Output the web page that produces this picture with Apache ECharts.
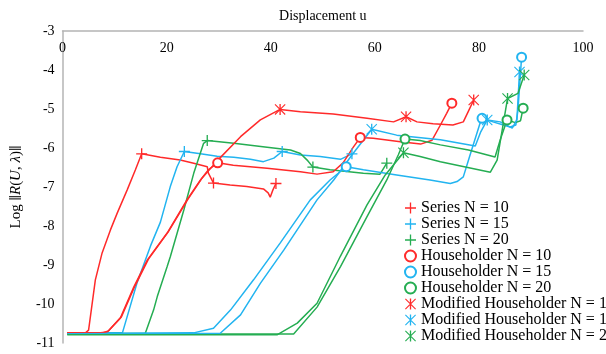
<!DOCTYPE html>
<html>
<head>
<meta charset="utf-8">
<script src="https://cdn.jsdelivr.net/npm/echarts@6/dist/echarts.min.js"></script>
<style>
html, body { margin: 0; padding: 0; background: #fff; }
#chart { width: 606px; height: 354px; }
</style>
</head>
<body>
<div id="chart"></div>
<script>
// axis ticks
const xTicks = [0, 20, 40, 60, 80, 100];
const yTicks = [-11, -10, -9, -8, -7, -6, -5, -4, -3];

// [u, log residual]; *Marks = indices that carry a marker
const seriesN10 = [[0.9,-10.74],[4.4,-10.74],[5.0,-10.67],[6.3,-9.38],[7.6,-8.69],[9.2,-8.10],[10.5,-7.67],[12.4,-7.08],[14.0,-6.56],[15.2,-6.15],[18.8,-6.24],[22.6,-6.31],[25.2,-6.39],[27.8,-6.48],[28.0,-6.64],[29.0,-6.90],[32.2,-6.95],[35.4,-6.99],[38.6,-7.05],[39.5,-7.15],[39.9,-7.26],[40.4,-7.08],[41.0,-6.91]];
const seriesN10Marks = [9, 15, 22];

const seriesN15 = [[0.9,-10.74],[11.5,-10.74],[12.4,-10.33],[14.3,-9.46],[16.9,-8.51],[18.8,-7.90],[20.7,-6.99],[22.0,-6.48],[23.4,-6.09],[26.5,-6.15],[29.7,-6.21],[32.9,-6.24],[36.1,-6.29],[38.6,-6.35],[40.6,-6.26],[42.2,-6.09],[45.7,-6.18],[49.5,-6.22],[53.4,-6.29],[55.6,-6.15]];
const seriesN15Marks = [8, 15, 19];

const seriesN20 = [[0.9,-10.77],[15.9,-10.75],[17.5,-10.15],[18.2,-9.81],[20.1,-9.04],[20.7,-8.79],[23.3,-7.59],[25.2,-6.65],[27.1,-5.88],[27.8,-5.81],[32.9,-5.88],[39.3,-5.98],[43.8,-6.05],[45.7,-6.14],[47.0,-6.31],[48.1,-6.49],[51.4,-6.56],[57.8,-6.65],[61.0,-6.67],[62.3,-6.39]];
const seriesN20Marks = [9, 15, 19];

const houseN10 = [[0.9,-10.74],[7.3,-10.74],[8.6,-10.72],[11.1,-10.36],[13.7,-9.56],[16.3,-8.87],[20.1,-8.18],[23.9,-7.33],[26.5,-6.82],[28.0,-6.56],[29.8,-6.38],[32.8,-6.44],[39.3,-6.52],[45.7,-6.61],[48.9,-6.67],[52.0,-6.61],[53.9,-6.38],[55.9,-5.97],[57.2,-5.73],[59.7,-5.75],[64.9,-5.84],[68.8,-5.90],[71.0,-5.80],[72.6,-5.41],[73.8,-5.11],[74.8,-4.85]];
const houseN10Marks = [10, 18, 25];

const houseN15 = [[0.9,-10.76],[25.2,-10.74],[29.0,-10.62],[32.3,-10.15],[36.7,-9.38],[41.8,-8.44],[47.6,-7.33],[51.4,-6.82],[54.5,-6.48],[57.8,-6.56],[64.2,-6.69],[70.6,-6.82],[74.5,-6.91],[75.8,-6.86],[77.0,-6.74],[78.3,-6.18],[80.2,-5.37],[80.6,-5.24],[82.7,-5.33],[84.7,-5.41],[86.0,-5.46],[87.1,-5.41],[87.5,-5.03],[87.9,-4.26],[88.2,-3.67]];
const houseN15Marks = [8, 17, 24];

const houseN20 = [[0.9,-10.77],[44.4,-10.77],[48.9,-10.08],[53.4,-9.04],[58.5,-7.76],[62.3,-6.82],[64.5,-6.18],[65.8,-5.77],[68.7,-5.81],[72.6,-5.92],[78.0,-6.05],[83.1,-6.23],[84.1,-5.79],[85.4,-5.28],[87.0,-5.35],[88.0,-5.30],[88.5,-4.98]];
const houseN20Marks = [7, 13, 16];

const modN10 = [[0.9,-10.74],[7.7,-10.74],[8.8,-10.69],[11.3,-10.33],[13.9,-9.54],[16.5,-8.85],[20.3,-8.15],[24.1,-7.31],[26.7,-6.79],[29.7,-6.33],[34.2,-5.71],[38.0,-5.28],[41.8,-5.01],[45.7,-5.07],[52.0,-5.13],[58.5,-5.24],[63.6,-5.33],[66.0,-5.20],[68.1,-5.33],[71.2,-5.38],[75.0,-5.41],[77.0,-5.33],[77.9,-5.08],[79.0,-4.77]];
const modN10Marks = [12, 17, 23];

const modN15 = [[0.9,-10.76],[30.3,-10.75],[34.2,-10.28],[38.0,-9.47],[42.5,-8.62],[48.9,-7.33],[52.1,-6.82],[55.6,-6.18],[59.4,-5.52],[64.2,-5.67],[72.6,-5.79],[79.3,-5.95],[80.3,-5.60],[81.6,-5.28],[84.1,-5.33],[86.4,-5.49],[87.3,-5.28],[87.8,-4.05]];
const modN15Marks = [8, 13, 17];

const modN20 = [[0.9,-10.79],[41.2,-10.79],[45.1,-10.49],[48.9,-9.98],[53.4,-8.77],[58.5,-7.46],[62.0,-6.69],[65.5,-6.12],[68.7,-6.22],[72.6,-6.35],[82.2,-6.62],[83.5,-6.31],[85.5,-4.73],[87.5,-4.60],[88.7,-4.13]];
const modN20Marks = [7, 12, 14];

const RED = '#ff2a2a';
const BLUE = '#22b4f0';
const GREEN = '#25ad52';
const FONT = '"Liberation Serif", "Times New Roman", serif';

const PLUS = 'path://M0,4.4H10V5.6H0Z M4.4,0H5.6V10H4.4Z';
const STAR = 'path://M4.4,0H5.6V10H4.4Z M0,0.7L0.7,0L10,9.3L9.3,10Z M9.3,0L10,0.7L0.7,10L0,9.3Z';

const chart = echarts.init(document.getElementById('chart'));

const makeSeries = (name, pts, marks, color, symbol, size) => ({
    name: name,
    type: 'line',
    data: pts.map((p, i) => marks.includes(i) ? { value: p } : { value: p, symbol: 'none' }),
    symbol: symbol,
    symbolSize: size,
    showSymbol: true,
    showAllSymbol: true,
    color: color,
    lineStyle: { width: 1.5, color: color },
    itemStyle: {
        color: color,
        borderColor: color,
        borderWidth: symbol === 'emptyCircle' ? 1.5 : 0
    },
    emphasis: { disabled: true },
    animation: false
});

const series = [
    makeSeries('Series N = 10', seriesN10, seriesN10Marks, RED, PLUS, 11),
    makeSeries('Series N = 15', seriesN15, seriesN15Marks, BLUE, PLUS, 11),
    makeSeries('Series N = 20', seriesN20, seriesN20Marks, GREEN, PLUS, 11),
    makeSeries('Householder N = 10', houseN10, houseN10Marks, RED, 'emptyCircle', 9),
    makeSeries('Householder N = 15', houseN15, houseN15Marks, BLUE, 'emptyCircle', 9),
    makeSeries('Householder N = 20', houseN20, houseN20Marks, GREEN, 'emptyCircle', 9),
    makeSeries('Modified Householder N = 10', modN10, modN10Marks, RED, STAR, 11),
    makeSeries('Modified Householder N = 15', modN15, modN15Marks, BLUE, STAR, 11),
    makeSeries('Modified Householder N = 20', modN20, modN20Marks, GREEN, STAR, 11)
];

const option = {
    backgroundColor: '#fff',
    animation: false,
    grid: { left: 62, right: 23, top: 31, bottom: 11 },
    legend: {
        orient: 'vertical',
        left: 399,
        top: 195,
        itemWidth: 11,
        itemHeight: 11,
        itemGap: 0,
        textStyle: { fontFamily: FONT, fontSize: 16, lineHeight: 16, color: '#000' },
        data: series.map(s => ({ name: s.name, icon: s.symbol }))
    },
    xAxis: {
        type: 'value',
        position: 'top',
        min: xTicks[0],
        max: xTicks[xTicks.length - 1],
        interval: xTicks[1] - xTicks[0],
        name: 'Displacement u',
        nameLocation: 'middle',
        nameGap: 8,
        nameTextStyle: { fontFamily: FONT, fontSize: 14, color: '#000', verticalAlign: 'bottom' },
        axisLine: { show: true, onZero: false, lineStyle: { color: '#b4b4b4', width: 1.5 } },
        axisTick: { show: false },
        splitLine: { show: false },
        axisLabel: { inside: true, margin: 10, fontFamily: FONT, fontSize: 14, color: '#000' }
    },
    yAxis: {
        type: 'value',
        min: yTicks[0],
        max: yTicks[yTicks.length - 1],
        interval: yTicks[1] - yTicks[0],
        name: '{n|Log }{b|‖}{i|R}{n|(}{i|U}{n|, }{i|λ}{n|)}{b|‖}',
        nameLocation: 'middle',
        nameGap: 36,
        nameRotate: 90,
        nameTextStyle: {
            rich: {
                n: { fontFamily: FONT, fontSize: 15, color: '#000' },
                i: { fontFamily: FONT, fontSize: 15, fontStyle: 'italic', color: '#000' },
                b: { fontFamily: FONT, fontSize: 17, fontWeight: 'bold', color: '#333' }
            }
        },
        axisLine: { show: true, onZero: false, lineStyle: { color: '#b4b4b4', width: 1.5 } },
        axisTick: { show: false },
        splitLine: { show: false },
        axisLabel: { margin: 8, fontFamily: FONT, fontSize: 14, color: '#000' }
    },
    series: series
};

chart.setOption(option);
</script>
</body>
</html>
